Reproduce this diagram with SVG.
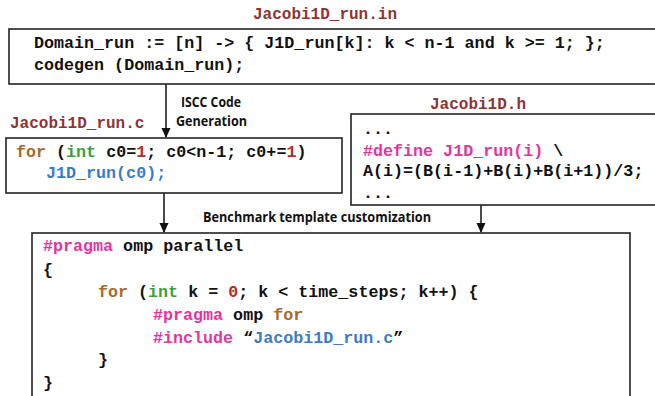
<svg xmlns="http://www.w3.org/2000/svg" width="655" height="396" viewBox="0 0 655 396">
<style>
.box{fill:#fff;stroke:#222;stroke-width:1.6}
.code{font-family:"Liberation Mono","Courier New",monospace;font-weight:bold;font-size:16.7px;fill:#111;white-space:pre}
.title{font-family:"Liberation Mono","Courier New",monospace;font-weight:bold;font-size:16px;fill:#8E3434}
.lbl{font-family:"Open Sans","Liberation Sans",sans-serif;font-weight:bold;font-size:13.5px;fill:#111}
.kw{fill:#A8682A}.ty{fill:#3E9E3E}.num{fill:#B52A2A}.pp{fill:#E2359E}.fn{fill:#3B7CC9}
.conn{stroke:#111;stroke-width:1.5;fill:none}
</style>
<defs>
<marker id="ah" markerWidth="10" markerHeight="10" refX="9" refY="5" orient="auto" markerUnits="userSpaceOnUse">
<path d="M0,0.5 L10,5 L0,9.5 Z" fill="#111"/>
</marker>
</defs>
<rect width="655" height="396" fill="#fff"/>

<g id="connectors">
<line class="conn" x1="166" y1="84" x2="166" y2="137" marker-end="url(#ah)"/>
<line class="conn" x1="164" y1="193" x2="164" y2="232" marker-end="url(#ah)"/>
<line class="conn" x1="481" y1="205" x2="481" y2="232" marker-end="url(#ah)"/>
<text class="lbl" x="181" y="107" textLength="60" lengthAdjust="spacingAndGlyphs">ISCC Code</text>
<text class="lbl" x="176" y="126" textLength="71" lengthAdjust="spacingAndGlyphs">Generation</text>
<text class="lbl" x="203" y="222" textLength="228" lengthAdjust="spacingAndGlyphs">Benchmark template customization</text>
</g>

<g id="jacobi_run_in">
<text class="title" x="325" y="19" text-anchor="middle">Jacobi1D_run.in</text>
<rect class="box" x="9" y="29" width="660" height="55"/>
<text class="code" x="34" y="48">Domain_run := [n] -&gt; { J1D_run[k]: k &lt; n-1 and k &gt;= 1; };</text>
<text class="code" x="34" y="70">codegen (Domain_run);</text>
</g>

<g id="jacobi_run_c">
<text class="title" x="10" y="128">Jacobi1D_run.c</text>
<rect class="box" x="6" y="138" width="336" height="55"/>
<text class="code" x="16" y="157"><tspan class="kw">for</tspan> (<tspan class="ty">int</tspan> c0=<tspan class="num">1</tspan>; c0&lt;n-1; c0+=<tspan class="num">1</tspan>)</text>
<text class="code" x="46" y="178"><tspan class="fn">J1D_run(c0);</tspan></text>
</g>

<g id="jacobi_h">
<text class="title" x="478" y="109" text-anchor="middle">Jacobi1D.h</text>
<rect class="box" x="351" y="114" width="320" height="91"/>
<text class="code" x="363" y="134">...</text>
<text class="code" x="363" y="156"><tspan class="pp">#define J1D_run(i)</tspan> \</text>
<text class="code" x="363" y="176">A(i)=(B(i-1)+B(i)+B(i+1))/3;</text>
<text class="code" x="363" y="198">...</text>
</g>

<g id="benchmark_template">
<rect class="box" x="32" y="233" width="598" height="180"/>
<text class="code" x="43" y="251"><tspan class="pp">#pragma</tspan> omp parallel</text>
<text class="code" x="43" y="275">{</text>
<text class="code" x="98" y="297"><tspan class="kw">for</tspan> (<tspan class="ty">int</tspan> k = <tspan class="num">0</tspan>; k &lt; time_steps; k++) {</text>
<text class="code" x="153" y="320"><tspan class="pp">#pragma</tspan> omp <tspan class="kw">for</tspan></text>
<text class="code" x="153" y="343"><tspan class="pp">#include</tspan> “<tspan class="fn">Jacobi1D_run.c</tspan>”</text>
<text class="code" x="98" y="365">}</text>
<text class="code" x="43" y="388">}</text>
</g>
</svg>
